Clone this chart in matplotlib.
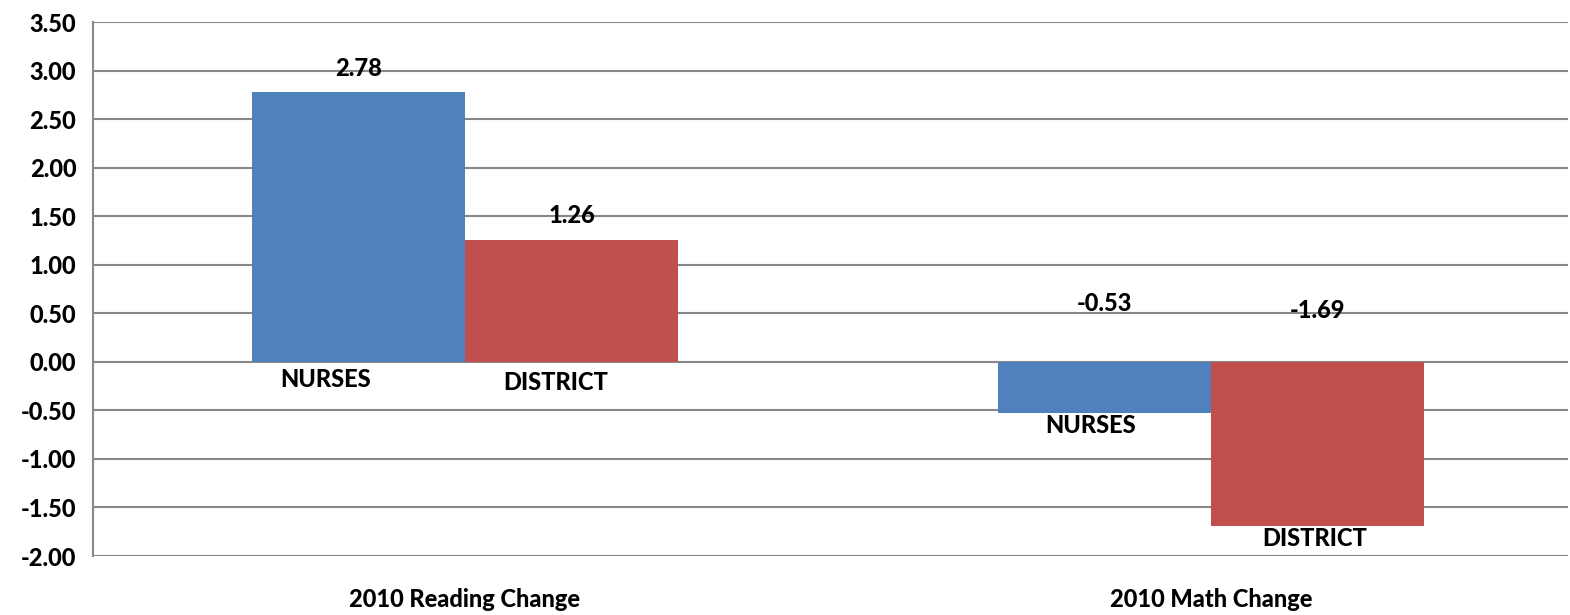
import numpy as np
import matplotlib
matplotlib.use("Agg")
import matplotlib.pyplot as plt

plt.rcParams['font.family'] = ['Lato', 'DejaVu Sans']
plt.rcParams['font.weight'] = 'black'

categories = ["2010 Reading Change", "2010 Math Change"]
series = ["NURSES", "DISTRICT"]
nurses = [2.78, -0.53]
district = [1.26, -1.69]
colors = ["#4F81BD", "#C0504D"]

fig = plt.figure(figsize=(15.7, 6.15), dpi=100)
ax = fig.add_axes([0.0592, 0.0959, 0.9395, 0.8683])

x = np.arange(len(categories))
w = 0.2855
fw = "black"
fs = 17
# small horizontal nudges (points) for the series-name labels, as in the original
name_dx = [[-24, -11], [-10, -2]]
for i, (name, vals) in enumerate(zip(series, [nurses, district])):
    xs = x + (i - 0.5) * w
    ax.bar(xs, vals, width=w, color=colors[i], zorder=3)
    for j, (xi, v) in enumerate(zip(xs, vals)):
        dx = name_dx[j][i]
        if v >= 0:
            ax.annotate(f"{v:.2f}", (xi, v), xytext=(0, 17), textcoords="offset points",
                        ha="center", va="center", fontsize=fs, fontweight=fw)
            ax.annotate(name, (xi, 0), xytext=(dx, -13 - 2 * i),
                        textcoords="offset points", ha="center", va="center",
                        fontsize=fs, fontweight=fw)
        else:
            ax.annotate(f"{v:.2f}", (xi, 0), xytext=(0, 42 - 5 * i), textcoords="offset points",
                        ha="center", va="center", fontsize=fs, fontweight=fw)
            ax.annotate(name, (xi, v), xytext=(dx, -9), textcoords="offset points",
                        ha="center", va="center", fontsize=fs, fontweight=fw)

ax.set_xlim(-0.4987, 1.4786)
ax.set_ylim(-2.0, 3.5)
ax.set_yticks(np.arange(-2.0, 3.51, 0.5))
ax.set_yticklabels([f"{t:.2f}" for t in np.arange(-2.0, 3.51, 0.5)], fontsize=fs, fontweight=fw)
ax.set_xticks(x)
ax.set_xticklabels(categories, fontsize=fs, fontweight=fw)
ax.tick_params(axis="both", length=0)
ax.tick_params(axis="x", pad=23)
ax.tick_params(axis="y", pad=12)
ax.yaxis.grid(True, color="#888888", linewidth=1.5, zorder=0)
ax.set_axisbelow(True)
for s in ["top", "right", "bottom"]:
    ax.spines[s].set_visible(False)
ax.spines["left"].set_color("#888888")
ax.spines["left"].set_linewidth(1.5)

fig.savefig("out.png", dpi=100)
